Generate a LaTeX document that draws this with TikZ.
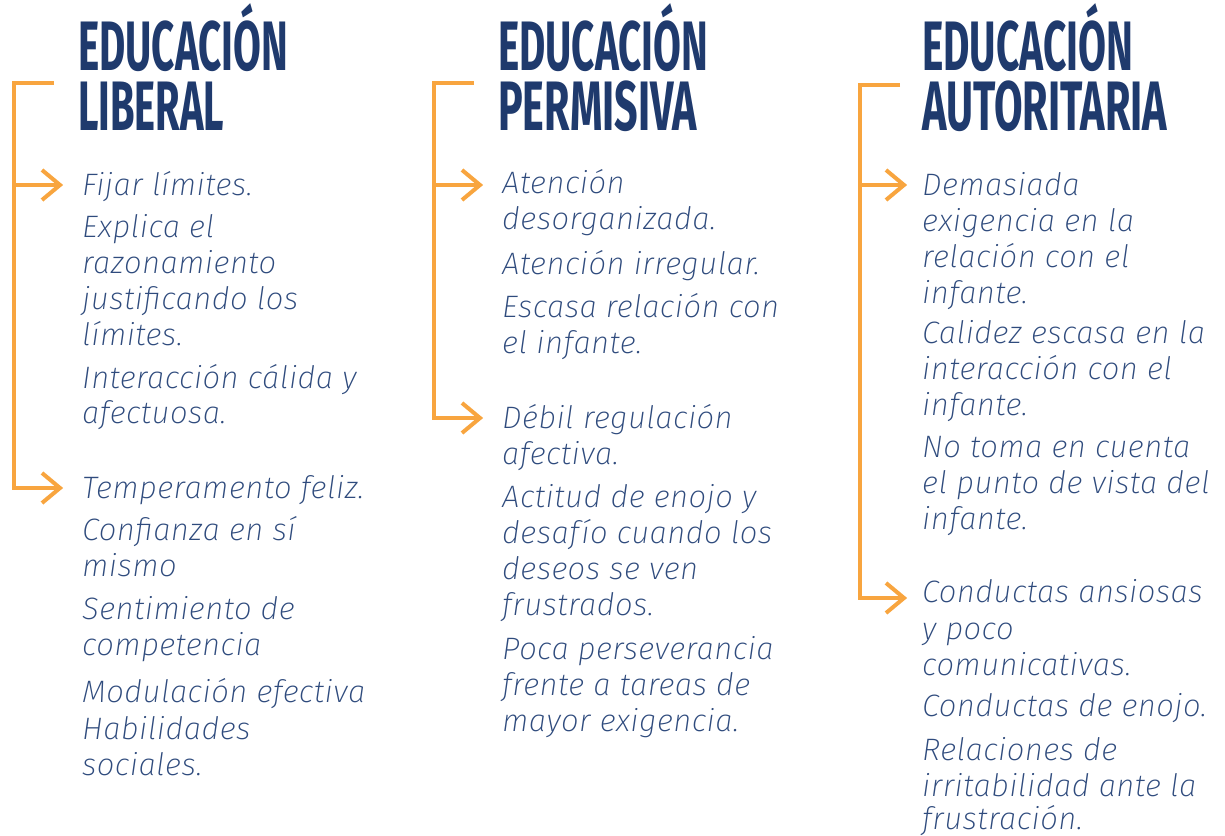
\documentclass[tikz,border=0pt]{standalone}
\usepackage{fontspec}
\usepackage{graphicx}
\newfontfamily\headfont{Fira Sans Bold}
\newfontfamily\bodyfont[LetterSpace=1.5]{Fira Sans ExtraLight Italic}
\definecolor{orng}{HTML}{F8A53F}
\definecolor{navy}{HTML}{1F3A6D}
\definecolor{bodyblue}{HTML}{2F4B7D}
\tikzset{
  head/.style={anchor=base west,inner sep=0pt,text=navy,align=left,font=\headfont\fontsize{70}{60}\selectfont},
  body/.style={anchor=base west,inner sep=0pt,text=bodyblue,font=\bodyfont\fontsize{31}{31}\selectfont},
  brace/.style={draw=orng,line width=4pt,line join=miter},
  chev/.style={draw=orng,line width=4pt,line join=miter,line cap=butt}
}
\newcommand\hd[7]{\node[head] (#1) at (#2,#3) {\resizebox{#4pt}{\height}{#5}\\\resizebox{#6pt}{\height}{#7}};}
\newcommand\bl[4]{\node[body] (#1) at (#2,#3) {#4};}
\newcommand\arrowto[2]{%
  \draw[chev] ([xshift=-18pt,yshift=15pt]#2) -- (#2) -- ([xshift=-18pt,yshift=-15pt]#2);}
\begin{document}
\begin{tikzpicture}[x=1pt,y=-1pt]
\useasboundingbox (0,0) rectangle (1225,835);
% headers (anchored at the baseline of the second line)
\hd{h1}{78}{130}{210}{EDUCACIÓN}{146}{LIBERAL}
\hd{h2}{498}{130}{210}{EDUCACIÓN}{199}{PERMISIVA}
\hd{h3}{922}{130}{211}{EDUCACIÓN}{245}{AUTORITARIA}
% column 1
\bl{a1}{82}{195}{Fijar límites.}
\bl{a2}{82}{237}{Explica el}
\bl{a3}{82}{273}{razonamiento}
\bl{a4}{82}{309}{justificando los}
\bl{a5}{82}{345}{límites.}
\bl{a6}{82}{388}{Interacción cálida y}
\bl{a7}{82}{423}{afectuosa.}
\bl{a8}{82}{498}{Temperamento feliz.}
\bl{a9}{82}{540}{Confianza en sí}
\bl{a10}{82}{576}{mismo}
\bl{a11}{82}{619}{Sentimiento de}
\bl{a12}{82}{655}{competencia}
\bl{a13}{82}{702}{Modulación efectiva}
\bl{a14}{82}{739}{Habilidades}
\bl{a15}{82}{775}{sociales.}
% column 2
\bl{b1}{502}{193}{Atención}
\bl{b2}{502}{229}{desorganizada.}
\bl{b3}{502}{274}{Atención irregular.}
\bl{b4}{502}{317}{Escasa relación con}
\bl{b5}{502}{353}{el infante.}
\bl{b6}{502}{428}{Débil regulación}
\bl{b7}{502}{464}{afectiva.}
\bl{b8}{502}{507}{Actitud de enojo y}
\bl{b9}{502}{543}{desafío cuando los}
\bl{b10}{502}{579}{deseos se ven}
\bl{b11}{502}{615}{frustrados.}
\bl{b12}{502}{659}{Poca perseverancia}
\bl{b13}{502}{695}{frente a tareas de}
\bl{b14}{502}{731}{mayor exigencia.}
% column 3
\bl{c1}{922}{195}{Demasiada}
\bl{c2}{922}{231}{exigencia en la}
\bl{c3}{922}{267}{relación con el}
\bl{c4}{922}{303}{infante.}
\bl{c5}{922}{343}{Calidez escasa en la}
\bl{c6}{922}{379}{interacción con el}
\bl{c7}{922}{415}{infante.}
\bl{c8}{922}{457}{No toma en cuenta}
\bl{c9}{922}{493}{el punto de vista del}
\bl{c10}{922}{529}{infante.}
\bl{c11}{922}{602}{Conductas ansiosas}
\bl{c12}{922}{639}{y poco}
\bl{c13}{922}{675}{comunicativas.}
\bl{c14}{922}{716}{Conductas de enojo.}
\bl{c15}{922}{760}{Relaciones de}
\bl{c16}{922}{796}{irritabilidad ante la}
\bl{c17}{922}{829}{frustración.}
% bracket coordinates
\coordinate (p1top) at (54,83);
\coordinate (p1c) at (14,83);
\coordinate (p1m) at (14,185);
\coordinate (p1b) at (14,488);
\coordinate (t1a) at (60,185);
\coordinate (t1b) at (60,488);
\coordinate (p2top) at (474,83);
\coordinate (p2c) at (434,83);
\coordinate (p2m) at (434,185);
\coordinate (p2b) at (434,418);
\coordinate (t2a) at (480,185);
\coordinate (t2b) at (480,418);
\coordinate (p3top) at (900,85);
\coordinate (p3c) at (860,85);
\coordinate (p3m) at (860,185);
\coordinate (p3b) at (860,598);
\coordinate (t3a) at (904,185);
\coordinate (t3b) at (904,598);
% brackets
\draw[brace] (p1top) -- (p1c) -- (p1b) -- (t1b);
\draw[brace] (p1m) -- (t1a);
\arrowto{p1m}{t1a}\arrowto{p1b}{t1b}
\draw[brace] (p2top) -- (p2c) -- (p2b) -- (t2b);
\draw[brace] (p2m) -- (t2a);
\arrowto{p2m}{t2a}\arrowto{p2b}{t2b}
\draw[brace] (p3top) -- (p3c) -- (p3b) -- (t3b);
\draw[brace] (p3m) -- (t3a);
\arrowto{p3m}{t3a}\arrowto{p3b}{t3b}
\end{tikzpicture}
\end{document}
